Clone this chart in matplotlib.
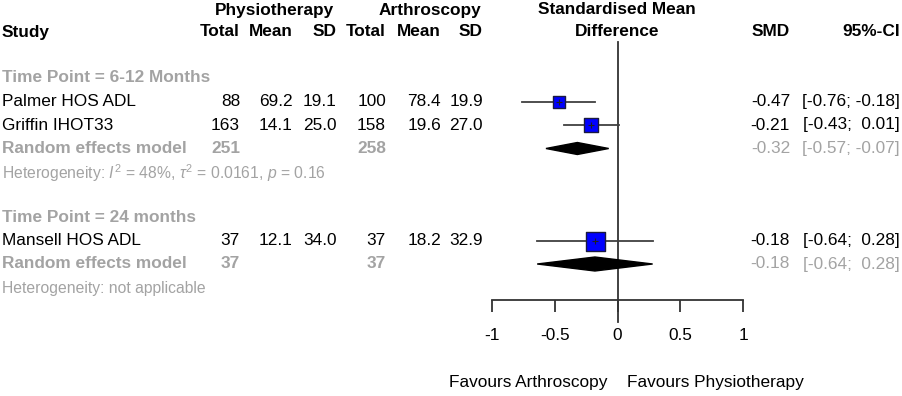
import matplotlib
matplotlib.use("Agg")
import matplotlib.pyplot as plt
import numpy as np

# study data
studies = ["Palmer HOS ADL", "Griffin IHOT33", "Mansell HOS ADL"]
physio_n = [88, 163, 37]
physio_mean = [69.2, 14.1, 12.1]
physio_sd = [19.1, 25.0, 34.0]
arthro_n = [100, 158, 37]
arthro_mean = [78.4, 19.6, 18.2]
arthro_sd = [19.9, 27.0, 32.9]
smd = [-0.47, -0.21, -0.18]
ci_lo = [-0.76, -0.43, -0.64]
ci_hi = [-0.18, 0.01, 0.28]
weights = [43.0, 57.0, 100.0]

# pooled (random effects) per subgroup
groups = ["Time Point = 6-12 Months", "Time Point = 24 months"]
re_physio_n = [251, 37]
re_arthro_n = [258, 37]
re_smd = [-0.32, -0.18]
re_lo = [-0.57, -0.64]
re_hi = [-0.07, 0.28]
het_text = [r"Heterogeneity: $I^2$ = 48%, $\tau^2$ = 0.0161, $p$ = 0.16",
            "Heterogeneity: not applicable"]
group_members = [[0, 1], [2]]

ticks = [-1, -0.5, 0, 0.5, 1]

plt.rcParams["font.family"] = ["Liberation Sans", "DejaVu Sans"]
plt.rcParams["mathtext.fontset"] = "custom"
plt.rcParams["mathtext.rm"] = "Liberation Sans"
plt.rcParams["mathtext.it"] = "Liberation Sans:italic"
GREY = "#a3a3a3"
FS = 12.4

fig = plt.figure(figsize=(9.02, 3.96), dpi=100)
ax = fig.add_axes([0, 0, 1, 1])
ax.set_xlim(0, 902)
ax.set_ylim(396, 0)
ax.axis("off")

# forest panel: x from -1 (px 492) to 1 (px 743)
fax = fig.add_axes([492 / 902, 0, 251 / 902, 1])
fax.set_xlim(-1, 1)
fax.set_ylim(396, 0)
fax.patch.set_alpha(0)
for s in ["top", "left", "right"]:
    fax.spines[s].set_visible(False)
fax.spines["bottom"].set_position(("data", 300))
fax.spines["bottom"].set_linewidth(1.3)
fax.spines["bottom"].set_color("#333333")
fax.spines["bottom"].set_bounds(-1, 1)
fax.set_yticks([])
fax.set_xticks(ticks)
fax.set_xticklabels(["-1", "-0.5", "0", "0.5", "1"])
fax.tick_params(axis="x", direction="out", length=8.5, width=1.3, color="#333333",
                labelsize=FS, pad=12)

# header
hb = dict(fontsize=FS, fontweight="bold", va="center")
ax.text(275, 10, "Physiotherapy", ha="center", **hb)
ax.text(430, 10, "Arthroscopy", ha="center", **hb)
ax.text(617, 10, "Standardised Mean", ha="center", **hb)
ax.text(2, 32, "Study", ha="left", **hb)
for x, lab in zip([240, 293, 337, 386, 441, 483], ["Total", "Mean", "SD"] * 2):
    ax.text(x, 32, lab, ha="right", **hb)
ax.text(617, 32, "Difference", ha="center", **hb)
ax.text(790, 32, "SMD", ha="right", **hb)
ax.text(900, 32, "95%-CI", ha="right", **hb)

# reference line
fax.plot([0, 0], [42, 322], color="#333333", lw=1.3, zorder=1)

group_y = [78, 217]
row_step = 23.5
cols = [240, 293, 337, 386, 441, 483]

def fmt_ci(lo, hi):
    return "[%s; %s]" % (("%.2f" % lo).rjust(5), ("%.2f" % hi).rjust(5))

for g, gname in enumerate(groups):
    y0 = group_y[g]
    ax.text(2, y0, gname, ha="left", va="center", fontsize=FS, fontweight="bold", color=GREY)
    y = y0
    for i in group_members[g]:
        y += row_step
        ax.text(2, y, studies[i], ha="left", va="center", fontsize=FS)
        vals = [str(physio_n[i]), "%.1f" % physio_mean[i], "%.1f" % physio_sd[i],
                str(arthro_n[i]), "%.1f" % arthro_mean[i], "%.1f" % arthro_sd[i]]
        for x, v in zip(cols, vals):
            ax.text(x, y, v, ha="right", va="center", fontsize=FS)
        ax.text(790, y, "%.2f" % smd[i], ha="right", va="center", fontsize=FS)
        ax.text(900, y, fmt_ci(ci_lo[i], ci_hi[i]), ha="right", va="center", fontsize=FS)
        fax.plot([ci_lo[i], ci_hi[i]], [y, y], color="#404040", lw=1.3, zorder=2)
        side = 19 * np.sqrt(weights[i] / 100) * 0.72
        fax.scatter([smd[i]], [y], marker="s", s=side ** 2, color="#0000ff",
                    edgecolor="#1a1a40", linewidth=1.0, zorder=3)
        fax.plot([smd[i]], [y], marker="+", color="#202020", ms=4, mew=0.8, zorder=4)
    y += row_step
    ax.text(2, y, "Random effects model", ha="left", va="center", fontsize=FS,
            fontweight="bold", color=GREY)
    ax.text(240, y, str(re_physio_n[g]), ha="right", va="center", fontsize=FS,
            fontweight="bold", color=GREY)
    ax.text(386, y, str(re_arthro_n[g]), ha="right", va="center", fontsize=FS,
            fontweight="bold", color=GREY)
    ax.text(790, y, "%.2f" % re_smd[g], ha="right", va="center", fontsize=FS, color=GREY)
    ax.text(900, y, fmt_ci(re_lo[g], re_hi[g]), ha="right", va="center", fontsize=FS, color=GREY)
    h = 6 + g
    fax.fill([re_lo[g], re_smd[g], re_hi[g], re_smd[g]], [y, y - h, y, y + h],
             color="black", zorder=3)
    y += 24.5
    ax.text(2, y, het_text[g], ha="left", va="center", fontsize=11.3, color=GREY)

ax.text(607, 382, "Favours Arthroscopy", ha="right", va="center", fontsize=FS)
ax.text(627, 382, "Favours Physiotherapy", ha="left", va="center", fontsize=FS)

fig.savefig("out.png", dpi=100)
